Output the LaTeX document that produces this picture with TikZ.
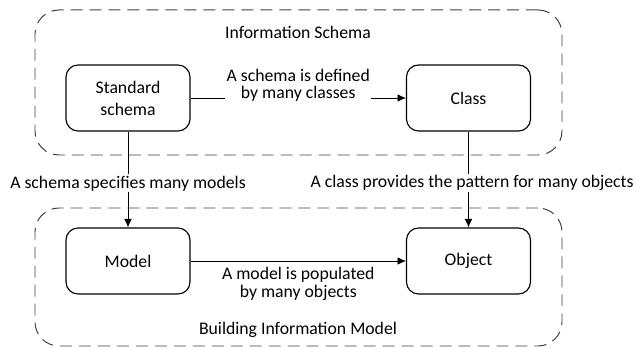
\documentclass[tikz,border=0pt]{standalone}
\usepackage{fontspec}
\setmainfont{Carlito}
\usetikzlibrary{positioning,arrows.meta}

\begin{document}
\begin{tikzpicture}[
    every node/.style={font=\fontsize{12.6}{15.6}\selectfont},
    container/.style={draw=black!75,line width=0.7pt,dash pattern=on 8.5pt off 5pt,rounded corners=0.6cm},
    entity/.style={draw,line width=0.8pt,rounded corners=0.3cm,minimum width=3.1cm,minimum height=1.65cm,align=center},
    rel/.style={line width=0.7pt,->,>={Latex[length=6pt,width=5.5pt]}},
    lbl/.style={font=\fontsize{12.6}{12.3}\selectfont,align=center,fill=white,inner sep=1pt},
    ]
    \useasboundingbox (0,0) rectangle (15.9,8.725);
    % containers
    \node[container,minimum width=13.175cm,minimum height=3.625cm] (schema) at (7.4625,6.6625) {};
    \node[container,minimum width=13.175cm,minimum height=3.45cm] (bim) at (7.4625,1.8) {};
    \node (schematitle) at (7.45,7.925) {Information Schema};
    \node (bimtitle) at (7.45,0.475) {Building Information Model};
    % entities
    \node[entity] (standard) at (3.2,6.275) {Standard\\schema};
    \node[entity] (class) at (11.7125,6.275) {Class};
    \node[entity] (model) at (3.2,2.2) {Model};
    \node[entity] (object) at (11.7125,2.2) {Object};
    % relations
    \draw[rel] (standard) -- (class) node[lbl,midway,anchor=south,yshift=-0.14cm] {A schema is defined\\by many classes};
    \draw[rel] (model) -- (object) node[lbl,midway,anchor=north,yshift=-0.12cm] {A model is populated\\by many objects};
    \draw[rel] (standard) -- (model) node[lbl,pos=0.54] {A schema specifies many models};
    \draw[rel] (class) -- (object) node[lbl,pos=0.54,xshift=0.09cm] {A class provides the pattern for many objects};
\end{tikzpicture}
\end{document}
